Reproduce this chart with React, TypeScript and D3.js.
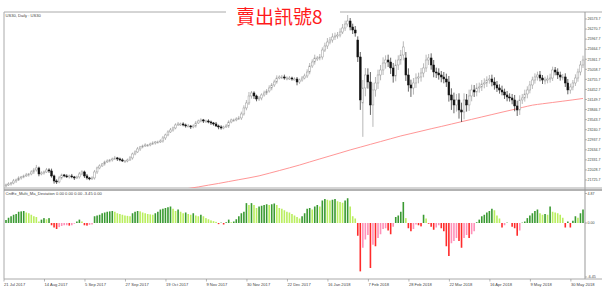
import React from "react";
import * as d3 from "d3";

// ---------- data ----------
const dateLabels = [
  "21 Jul 2017", "14 Aug 2017", "5 Sep 2017", "27 Sep 2017", "19 Oct 2017",
  "9 Nov 2017", "30 Nov 2017", "22 Dec 2017", "16 Jan 2018", "7 Feb 2018",
  "28 Feb 2018", "22 Mar 2018", "16 Apr 2018", "9 May 2018", "30 May 2018",
];
const labelEvery = 16; // bars between date labels

const priceTicks = [
  26573.7, 26270.7, 25967.7, 25664.7, 25361.7, 25058.7, 24755.7, 24452.7, 24149.7,
  23846.7, 23543.7, 23240.7, 22937.7, 22634.7, 22331.7, 22028.7, 21725.7,
];
const devTicks = [4.87, 0, -6.45];

const closes = [
  21577, 21607, 21637, 21697, 21727, 21788, 21818, 21848, 21878, 21908,
  21968, 22028, 22089, 21908, 21938, 21968, 22028, 21998, 21848, 21697,
  21667, 21788, 21878, 21848, 21818, 21848, 21818, 21788, 21818, 21908,
  21968, 21848, 21788, 21758, 21788, 21968, 22089, 22149, 22209, 22269,
  22299, 22330, 22360, 22390, 22360, 22330, 22299, 22299, 22330, 22390,
  22510, 22570, 22661, 22721, 22751, 22781, 22781, 22811, 22841, 22871,
  22871, 22901, 22992, 23082, 23172, 23232, 23293, 23383, 23413, 23413,
  23383, 23353, 23353, 23323, 23353, 23443, 23503, 23534, 23503, 23503,
  23473, 23443, 23413, 23353, 23323, 23293, 23323, 23353, 23473, 23534,
  23534, 23564, 23594, 23714, 23895, 24045, 24256, 24346, 24256, 24166,
  24196, 24286, 24346, 24406, 24497, 24587, 24677, 24797, 24828, 24828,
  24797, 24797, 24797, 24767, 24767, 24677, 24737, 24797, 24858, 24978,
  25159, 25279, 25400, 25400, 25430, 25640, 25761, 25881, 25941, 26032,
  26062, 26092, 26182, 26303, 26423, 26513, 26333, 26242, 26152, 25430,
  24136, 24497, 24888, 24677, 23985, 24436, 24647, 24888, 25038, 25249,
  25339, 25279, 25099, 24858, 25189, 25339, 25490, 25731, 24888, 24587,
  24497, 24647, 24797, 24828, 24948, 25099, 25339, 25400, 25189, 24978,
  24948, 24888, 24828, 24767, 24677, 24286, 24136, 23985, 24136, 23834,
  23774, 24136, 23985, 24256, 24436, 24376, 24497, 24527, 24617, 24647,
  24737, 24767, 24677, 24587, 24497, 24436, 24376, 24286, 24226, 24196,
  24136, 23955, 23834, 24136, 24196, 24316, 24436, 24587, 24737, 24828,
  24888, 24797, 24737, 24737, 24767, 24797, 25038, 24978, 24888, 24828,
  24828, 24647, 24436, 24527, 24647, 24797, 24978, 25189, 25339,
];

// opens follow the previous close except where a gap is visible
const openOverrides: [number, number][] = [
  [0, 21547], [139, 25941], [141, 24045], [158, 25400],
];

// upper / lower shadow lengths (points) beyond the candle body
const hiExt = [
  40, 50, 30, 60, 40, 50, 30, 40, 60, 30,
  50, 60, 90, 40, 50, 40, 60, 50, 70, 40,
  50, 60, 40, 30, 50, 40, 60, 30, 40, 60,
  50, 40, 60, 30, 50, 60, 40, 50, 30, 40,
  50, 30, 40, 60, 30, 40, 50, 30, 40, 60,
  40, 50, 60, 30, 40, 50, 30, 40, 50, 30,
  40, 50, 60, 40, 50, 60, 40, 50, 60, 40,
  50, 40, 60, 30, 50, 60, 40, 50, 30, 40,
  50, 40, 30, 60, 40, 50, 40, 60, 50, 40,
  40, 50, 60, 70, 80, 90, 120, 60, 50, 40,
  60, 50, 70, 60, 80, 60, 70, 80, 50, 60,
  70, 50, 60, 40, 50, 60, 40, 60, 70, 80,
  90, 80, 100, 60, 90, 80, 100, 120, 90, 110,
  100, 90, 110, 120, 100, 180, 90, 100, 120, 110,
  150, 240, 210, 200, 300, 220, 180, 160, 150, 170,
  140, 160, 130, 150, 160, 140, 150, 170, 180, 200,
  160, 150, 140, 130, 150, 140, 160, 120, 140, 150,
  130, 140, 120, 150, 160, 180, 200, 220, 180, 200,
  220, 200, 180, 190, 160, 150, 140, 130, 120, 140,
  110, 120, 130, 140, 120, 110, 130, 100, 120, 110,
  120, 150, 160, 140, 120, 130, 110, 120, 100, 110,
  100, 120, 90, 100, 110, 130, 100, 90, 110, 100,
  90, 110, 120, 100, 90, 110, 100, 120, 130,
];
const loExt = [
  40, 30, 50, 40, 60, 30, 50, 40, 30, 50,
  40, 60, 50, 70, 40, 50, 30, 60, 50, 80,
  60, 40, 50, 40, 30, 50, 40, 60, 30, 50,
  40, 60, 50, 40, 30, 50, 60, 40, 30, 50,
  30, 40, 50, 30, 60, 40, 30, 50, 40, 30,
  50, 40, 30, 60, 40, 30, 50, 40, 30, 50,
  40, 30, 50, 60, 40, 30, 50, 40, 30, 60,
  40, 50, 30, 60, 40, 50, 30, 40, 60, 50,
  40, 60, 50, 30, 70, 50, 40, 30, 60, 40,
  50, 40, 30, 60, 50, 70, 60, 80, 90, 70,
  60, 70, 50, 60, 50, 70, 60, 50, 40, 60,
  50, 70, 60, 50, 40, 100, 60, 50, 40, 60,
  70, 60, 80, 90, 70, 80, 60, 90, 70, 80,
  90, 80, 70, 60, 90, 80, 100, 120, 110, 150,
  300, 1020, 250, 200, 300, 660, 200, 180, 160, 150,
  170, 150, 180, 200, 160, 150, 140, 160, 180, 200,
  270, 200, 150, 160, 140, 130, 120, 150, 140, 160,
  150, 140, 160, 130, 150, 200, 300, 250, 200, 260,
  300, 220, 200, 180, 160, 150, 130, 140, 120, 130,
  120, 110, 130, 140, 120, 110, 100, 120, 130, 110,
  130, 160, 180, 150, 120, 110, 130, 100, 120, 110,
  110, 100, 120, 130, 100, 110, 90, 100, 120, 110,
  100, 120, 130, 110, 100, 90, 110, 100, 90,
];

// moving average, sampled every 4 bars from bar 64
const maStart = 64;
const maStep = 4;
const maVals = [
  21366, 21415, 21469, 21517, 21571, 21622, 21679, 21735, 21790, 21850,
  21929, 22010, 22092, 22176, 22269, 22360, 22450, 22540, 22631, 22715,
  22799, 22883, 22968, 23052, 23124, 23196, 23269, 23338, 23410, 23482,
  23552, 23624, 23696, 23768, 23838, 23910, 23979, 24021, 24060, 24099,
  24139, 24181,
];

// deviation histogram
const dev = [
  0.4, 0.7, 0.9, 1.1, 1.2, 1.5, 1.55, 1.6, 1.4, 1.3,
  1.1, 0.9, 0.8, 0.2, 0.45, 0.65, 0.5, 0.65, -0.3, -0.6,
  -0.8, -0.55, -0.4, -0.3, -0.3, -0.35, -0.3, -0.1, 0.2, 0.45,
  0.2, -0.3, -0.35, -0.25, -0.2, 0.9, 1.0, 1.1, 1.3, 1.4,
  1.5, 1.55, 1.6, 1.5, 1.3, 1.2, 1.1, 1.0, 0.95, 0.9,
  1.3, 1.5, 1.6, 1.55, 1.4, 1.3, 1.2, 1.15, 1.1, 1.3,
  1.5, 1.8, 1.9, 2.0, 2.1, 2.2, 1.9, 1.6, 1.8, 1.5,
  1.3, 1.4, 1.2, 1.1, 1.3, 1.0, 0.9, 1.1, 0.9, 0.65,
  0.5, 0.35, 0.25, 0.15, -0.15, 0.05, -0.2, 0.1, 0.45, 0.1,
  0.2, 0.5, 0.9, 1.3, 1.5, 2.65, 2.4, 2.65, 2.4, 2.0,
  2.2, 2.3, 2.4, 2.5, 2.4, 2.5, 2.6, 2.4, 2.0, 1.9,
  1.7, 1.5, 1.4, 1.2, 1.0, 0.8, 0.6, 0.9, 1.3, 1.9,
  2.0, 1.8, 2.2, 2.4, 2.2, 3.0, 3.2, 3.1, 3.0, 3.1,
  3.2, 2.9, 2.8, 2.7, 3.0, 3.3, 2.2, 0.9, 0.6, -1.7,
  -6.45, -3.3, -2.2, -1.6, -6.0, -2.9, -3.1, -2.0, -1.5, -0.8,
  -0.7, -1.0, -1.5, -0.5, 0.8, 1.0, 1.5, 2.8, 0.65, -0.7,
  -1.1, -0.8, -0.2, -0.3, -0.45, 1.1, 0.6, -0.1, -0.5, -0.9,
  -0.6, -0.3, -0.7, -1.1, -3.1, -4.4, -2.7, -2.4, -2.0, -2.4,
  -3.3, -2.0, -1.6, -2.0, -1.5, -1.1, 0.1, 0.45, 0.9, 1.1,
  1.4, 1.6, 1.9, 1.7, 1.0, 0.6, -0.6, -0.3, 0.05, 0.0,
  -0.5, -0.7, -1.7, -1.0, 0.05, 0.2, 0.65, 1.0, 1.3, 1.6,
  1.8, 1.3, 1.1, 1.2, 1.1, 2.2, 1.5, 1.4, 1.3, 1.1,
  0.7, -0.6, 0.2, -0.6, 0.3, 0.9, 0.7, 1.3, 1.8,
];

const mainTitle = "US30, Daily : US30";
const subTitle = "CntEx_Multi_Ma_Deviation 0.00 0.00 0.00 -3.45 0.00";
const overlayTitle = "賣出訊號8";

// ---------- layout ----------
const W = 602, H = 295;
const LEFT = 4, RIGHT = 585;
const MAIN_TOP = 12, MAIN_BOTTOM = 188;
const SUB_TOP = 190.5, SUB_BOTTOM = 279;
const ZERO_Y = 223;
const DEV_PX = 7.5;

const FONT = "'Liberation Sans', Arial, sans-serif";
const TXT = "#444";
const AXIS_FS = 3.6;

export default function App() {
  const n = closes.length;
  const x = d3.scaleLinear().domain([0, n - 1]).range([6, 583]);
  const yP = d3.scaleLinear().domain([21725.7, 26573.7]).range([180, 19]);
  const yD = d3
    .scaleLinear()
    .domain([-6.45, 4.87])
    .range([ZERO_Y + 6.45 * DEV_PX, ZERO_Y - 4.87 * DEV_PX]);

  const ov = new Map(openOverrides);
  const candles = closes.map((c, i) => {
    const o = ov.has(i) ? (ov.get(i) as number) : closes[i - 1];
    const top = Math.max(o, c);
    const bot = Math.min(o, c);
    return { i, o, c, h: top + hiExt[i], l: bot - loExt[i], top, bot };
  });

  const maPts = maVals.map((v, k) => [maStart + k * maStep, v] as [number, number]);
  const maLine = d3
    .line<[number, number]>()
    .x((d) => x(d[0]))
    .y((d) => yP(d[1]))
    .curve(d3.curveMonotoneX)(maPts) as string;

  const devColor = (i: number) => {
    const v = dev[i];
    const p = i > 0 ? dev[i - 1] : 0;
    if (v >= 0) return v >= p ? "#3a9a32" : "#b9ee5e";
    return v < p ? "#ff2b2b" : "#ff90b8";
  };

  const z0 = yD(0);

  return (
    <svg
      width={W}
      height={H}
      style={{ position: "absolute", left: 0, top: 0, background: "#fff" }}
      fontFamily={FONT}
    >
      <defs>
        <clipPath id="mainClip">
          <rect x={LEFT} y={MAIN_TOP} width={RIGHT - LEFT} height={MAIN_BOTTOM - MAIN_TOP} />
        </clipPath>
        <clipPath id="subClip">
          <rect x={LEFT} y={SUB_TOP} width={RIGHT - LEFT} height={SUB_BOTTOM - SUB_TOP} />
        </clipPath>
      </defs>
      <rect x={0} y={0} width={W} height={H} fill="#fff" />

      {/* frames */}
      <line x1={LEFT} x2={W} y1={MAIN_TOP} y2={MAIN_TOP} stroke="#aaa" strokeWidth={1} />
      <line x1={LEFT} x2={LEFT} y1={MAIN_TOP} y2={SUB_BOTTOM} stroke="#aaa" strokeWidth={1} />
      <line x1={RIGHT} x2={RIGHT} y1={MAIN_TOP} y2={SUB_BOTTOM} stroke="#999" strokeWidth={1} />
      <line x1={LEFT} x2={W} y1={MAIN_BOTTOM} y2={MAIN_BOTTOM} stroke="#aaa" strokeWidth={1} />
      <line x1={LEFT} x2={W} y1={SUB_TOP - 0.5} y2={SUB_TOP - 0.5} stroke="#999" strokeWidth={1.5} />
      <line x1={LEFT} x2={W} y1={SUB_BOTTOM} y2={SUB_BOTTOM} stroke="#aaa" strokeWidth={1} />

      {/* main panel */}
      <g clipPath="url(#mainClip)">
        <path d={maLine} fill="none" stroke="#ff8a8a" strokeWidth={0.9} />
        {candles.map((d) => {
          const cx = x(d.i);
          const bull = d.c >= d.o;
          const yTop = yP(d.top);
          const yBot = yP(d.bot);
          const bh = Math.max(1, yBot - yTop);
          return (
            <g key={d.i}>
              <line
                x1={cx}
                x2={cx}
                y1={yP(d.h)}
                y2={yP(d.l)}
                stroke={bull ? "#999" : "#222"}
                strokeWidth={0.7}
              />
              <rect
                x={cx - 0.9}
                y={yTop}
                width={1.8}
                height={bh}
                fill={bull ? "#fff" : "#111"}
                stroke={bull ? "#999" : "#111"}
                strokeWidth={0.5}
              />
            </g>
          );
        })}
      </g>

      {/* sub panel */}
      <g clipPath="url(#subClip)">
        {dev.map((v, i) => (
          <rect
            key={i}
            x={x(i) - 0.8}
            y={Math.min(yD(v), z0)}
            width={1.6}
            height={Math.abs(yD(v) - z0)}
            fill={devColor(i)}
          />
        ))}
      </g>

      {/* price axis */}
      {priceTicks.map((t) => (
        <g key={t}>
          <line x1={RIGHT} x2={RIGHT + 2} y1={yP(t)} y2={yP(t)} stroke="#888" strokeWidth={0.6} />
          <text x={RIGHT + 2.5} y={yP(t)} dy="0.35em" fontSize={AXIS_FS} fill={TXT}>
            {t.toFixed(1)}
          </text>
        </g>
      ))}

      {/* deviation axis (extremes sit at the window edges) */}
      {devTicks.map((t) => {
        const yy = t === 4.87 ? SUB_TOP + 3 : t === -6.45 ? SUB_BOTTOM - 2 : yD(t);
        return (
          <g key={t}>
            <line x1={RIGHT} x2={RIGHT + 2} y1={yy} y2={yy} stroke="#888" strokeWidth={0.6} />
            <text x={RIGHT + 2.5} y={yy} dy="0.35em" fontSize={AXIS_FS} fill={TXT}>
              {t.toFixed(2)}
            </text>
          </g>
        );
      })}

      {/* date axis */}
      {dateLabels.map((lab, k) => {
        const xx = x(k * labelEvery);
        return (
          <g key={lab}>
            <line x1={xx - 2} x2={xx - 2} y1={SUB_BOTTOM} y2={SUB_BOTTOM + 2.5} stroke="#888" strokeWidth={0.6} />
            <text x={xx - 2} y={286} fontSize={4.1} fill={TXT}>
              {lab}
            </text>
          </g>
        );
      })}

      {/* titles */}
      <text x={5.5} y={16.5} fontSize={4.1} fill={TXT}>
        {mainTitle}
      </text>
      <text x={5.5} y={195} fontSize={4.1} fill={TXT}>
        {subTitle}
      </text>

      <rect x={226} y={4} width={114} height={17} fill="#fff" />
      <text
        x={236}
        y={24}
        fontSize={19}
        fill="#ff1a1a"
        fontFamily="'Noto Sans CJK TC', 'Noto Sans CJK SC', sans-serif"
      >
        {overlayTitle}
      </text>
    </svg>
  );
}
